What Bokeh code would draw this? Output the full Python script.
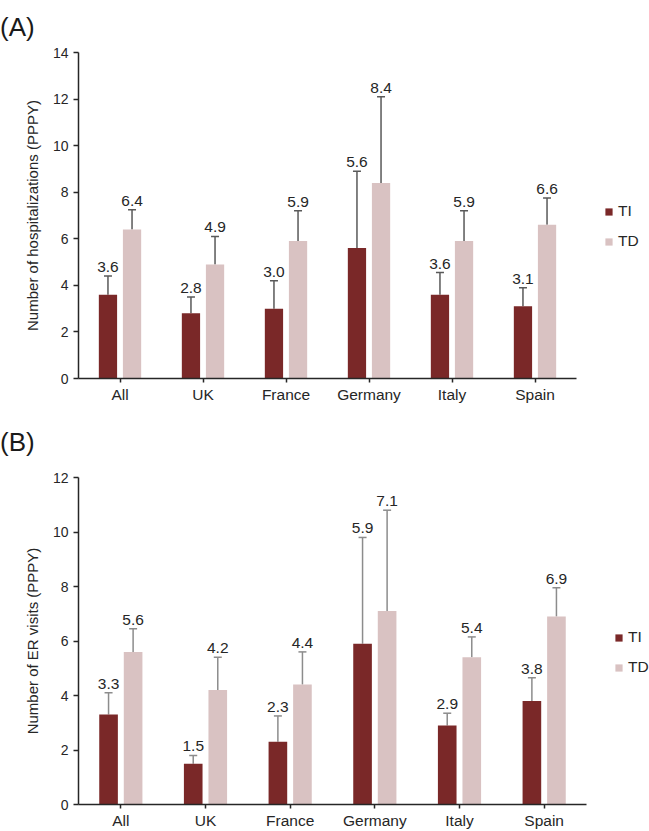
from bokeh.plotting import figure
from bokeh.models import (ColumnDataSource, FactorRange, Range1d, Whisker, TeeHead,
                          SingleIntervalTicker, Legend, LegendItem, Div)
from bokeh.transform import dodge
from bokeh.layouts import column
from bokeh.embed import file_html
from bokeh.resources import INLINE
from bokeh.core.properties import value

categories = ["All", "UK", "France", "Germany", "Italy", "Spain"]

# Panel A: hospitalizations (PPPY)
hosp_ti = [3.6, 2.8, 3.0, 5.6, 3.6, 3.1]
hosp_td = [6.4, 4.9, 5.9, 8.4, 5.9, 6.6]
hosp_ti_err = [4.4, 3.5, 4.2, 8.9, 4.55, 3.9]
hosp_td_err = [7.25, 6.1, 7.2, 12.1, 7.2, 7.75]

# Panel B: ER visits (PPPY)
er_ti = [3.3, 1.5, 2.3, 5.9, 2.9, 3.8]
er_td = [5.6, 4.2, 4.4, 7.1, 5.4, 6.9]
er_ti_err = [4.1, 1.8, 3.25, 9.8, 3.35, 4.65]
er_td_err = [6.45, 5.4, 5.6, 10.8, 6.15, 7.95]

TI_COLOR = "#7a2828"
TD_COLOR = "#d9c2c2"
FONT = "Liberation Sans"
TXT = "#262626"
W = 641


def make_panel(ylabel, ymax, ti, td, ti_err, td_err, err_color,
               frame_h, border_top, border_bottom, frame_left, frame_w, leg_loc):
    p = figure(x_range=FactorRange(*categories, range_padding=0),
               y_range=Range1d(0, ymax),
               frame_width=frame_w, frame_height=frame_h, output_backend="svg",
               toolbar_location=None, tools="",
               min_border_left=frame_left, min_border_right=60,
               min_border_top=border_top, min_border_bottom=border_bottom)
    p.outline_line_color = None
    p.xgrid.grid_line_color = None
    p.ygrid.grid_line_color = None

    src = ColumnDataSource(dict(
        cat=categories, ti=ti, td=td, ti_err=ti_err, td_err=td_err,
        ti_lab=[f"{v:.1f}" for v in ti], td_lab=[f"{v:.1f}" for v in td]))

    off = 0.145
    bw = 0.22
    r_ti = p.vbar(x=dodge("cat", -off, range=p.x_range), top="ti", width=bw,
                  source=src, fill_color=TI_COLOR, line_color=None)
    r_td = p.vbar(x=dodge("cat", off, range=p.x_range), top="td", width=bw,
                  source=src, fill_color=TD_COLOR, line_color=None)

    for key, o in (("ti", -off), ("td", off)):
        w = Whisker(base=dodge("cat", o, range=p.x_range), lower=key, upper=key + "_err",
                    source=src, line_color=err_color, line_width=1.5,
                    lower_head=None,
                    upper_head=TeeHead(size=8, line_color=err_color, line_width=1.5))
        p.add_layout(w)
        p.text(x=dodge("cat", o, range=p.x_range), y=key + "_err", text=key + "_lab",
               source=src, text_align="center", text_baseline="bottom", y_offset=-4,
               text_font=value(FONT), text_font_size="15.5px", text_color=TXT)

    p.yaxis.ticker = SingleIntervalTicker(interval=2)
    for ax in (p.xaxis, p.yaxis):
        ax.axis_line_color = TXT
        ax.axis_line_width = 1.5
        ax.major_tick_line_color = TXT
        ax.major_tick_line_width = 1.5
        ax.major_tick_in = 0
        ax.major_tick_out = 5
        ax.minor_tick_line_color = None
        ax.major_label_text_font = FONT
        ax.major_label_text_color = TXT
    p.xaxis.major_label_text_font_size = "15.5px"
    p.yaxis.major_label_text_font_size = "14px"
    p.xaxis.major_tick_out = 4
    p.xaxis.major_label_standoff = 3
    p.yaxis.major_label_standoff = 5
    p.yaxis.axis_label = ylabel
    p.yaxis.axis_label_text_font = FONT
    p.yaxis.axis_label_text_font_size = "15px"
    p.yaxis.axis_label_text_font_style = "normal"
    p.yaxis.axis_label_text_color = TXT
    p.yaxis.axis_label_standoff = 9

    leg = Legend(items=[LegendItem(label="TI", renderers=[r_ti]),
                        LegendItem(label="TD", renderers=[r_td])],
                 location=leg_loc, padding=0, margin=0, spacing=12,
                 glyph_width=9, glyph_height=9, label_standoff=5,
                 label_height=18,
                 label_text_font=FONT, label_text_font_size="15.5px",
                 label_text_color=TXT, background_fill_alpha=0,
                 border_line_color=None)
    p.add_layout(leg, "right")
    return p


def tag_div(text, height, line_h):
    return Div(text=text, width=W, height=height,
               styles={"font-family": FONT, "font-size": "26px",
                       "line-height": f"{line_h}px", "overflow": "visible",
                       "color": "#1a1a1a", "margin": "0", "padding": "0"})


divA = tag_div("(A)", 44, 55)
pA = make_panel("Number of hospitalizations (PPPY)", 14,
                hosp_ti, hosp_td, hosp_ti_err, hosp_td_err, "#595959",
                326, 8, 34, 76, 498, (28, 128))
divB = tag_div("(B)", 50, 60)
pB = make_panel("Number of ER visits (PPPY)", 12,
                er_ti, er_td, er_ti_err, er_td_err, "#8c8c8c",
                327, 15, 27, 78, 508, (28, 128))

layout = column(divA, pA, divB, pB, spacing=0)
open("out.html", "w").write(file_html(layout, INLINE))
